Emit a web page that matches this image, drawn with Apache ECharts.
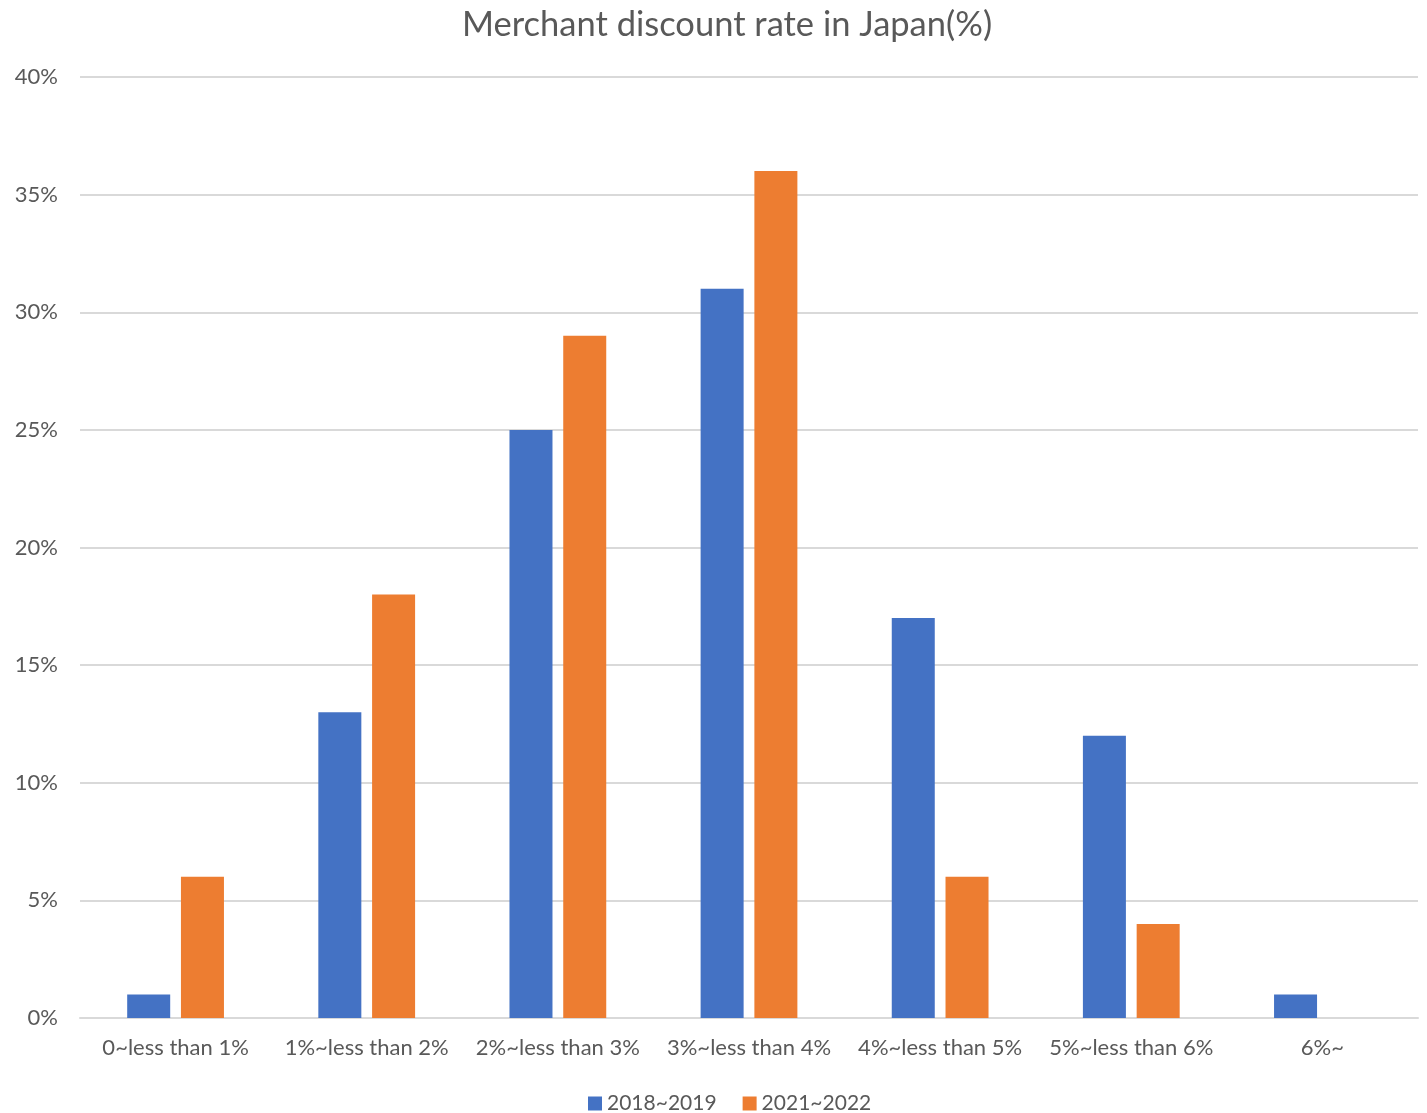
<!DOCTYPE html>
<html>
<head>
<meta charset="utf-8">
<script src="https://cdn.jsdelivr.net/npm/echarts@6/dist/echarts.min.js"></script>
<style>
  html, body { margin: 0; padding: 0; background: #fff; }
  #chart { width: 1427px; height: 1113px; }
</style>
</head>
<body>
<div id="chart"></div>
<script>
const categories = ['0~less than 1%', '1%~less than 2%', '2%~less than 3%', '3%~less than 4%', '4%~less than 5%', '5%~less than 6%', '6%~'];
const rate2018 = [1, 13, 25, 31, 17, 12, 1];
const rate2021 = [6, 18, 29, 36, 6, 4, 0];

const chart = echarts.init(document.getElementById('chart'));
const font = 'Lato, "Open Sans", sans-serif';

chart.setOption({
  animation: false,
  title: {
    text: 'Merchant discount rate in Japan(%)',
    left: 457,
    top: 2,
    textStyle: { fontFamily: font, fontSize: 34.5, fontWeight: 'normal', color: '#595959' }
  },
  legend: {
    top: 1088,
    left: 583,
    itemWidth: 14,
    itemHeight: 14,
    itemGap: 26,
    icon: 'rect',
    textStyle: { fontFamily: font, fontSize: 21, color: '#595959' },
    data: ['2018~2019', '2021~2022']
  },
  grid: { left: 80, right: 9, top: 77, bottom: 95, containLabel: false },
  xAxis: {
    type: 'category',
    data: categories,
    axisLine: { lineStyle: { color: '#d9d9d9', width: 2 } },
    axisTick: { show: false },
    axisLabel: { interval: 0, fontFamily: font, fontSize: 22, color: '#595959', margin: 19 }
  },
  yAxis: {
    type: 'value',
    min: 0,
    max: 40,
    interval: 5,
    axisLine: { show: false },
    axisTick: { show: false },
    axisLabel: { formatter: '{value}%', fontFamily: font, fontSize: 22, color: '#595959', margin: 22 },
    splitLine: { lineStyle: { color: '#d9d9d9', width: 2 } }
  },
  series: [
    {
      name: '2018~2019',
      type: 'bar',
      data: rate2018,
      barWidth: '22.5%',
      barGap: '25%',
      itemStyle: { color: '#4472C4' }
    },
    {
      name: '2021~2022',
      type: 'bar',
      data: rate2021,
      barWidth: '22.5%',
      itemStyle: { color: '#ED7D31' }
    }
  ]
});
</script>
</body>
</html>
